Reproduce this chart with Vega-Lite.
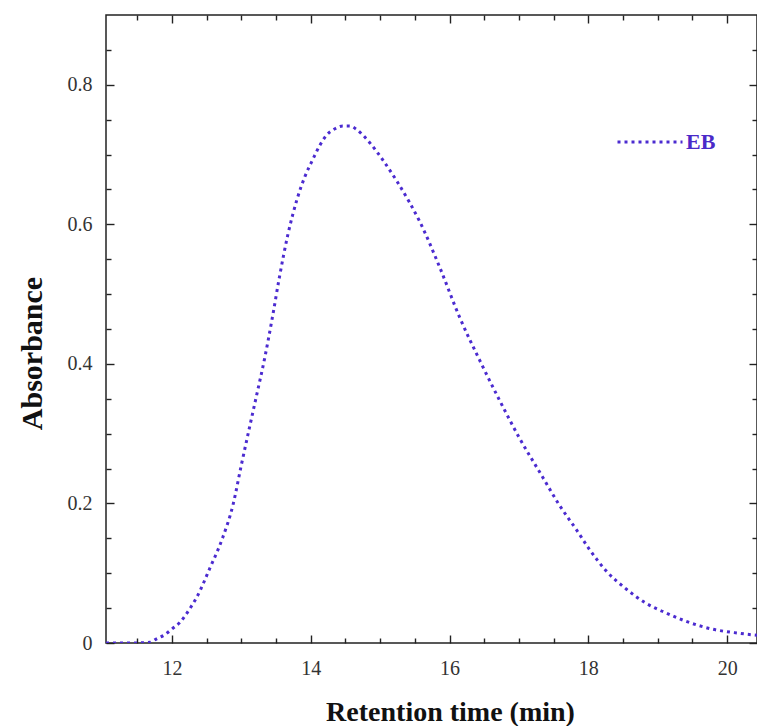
{
  "$schema": "https://vega.github.io/schema/vega-lite/v6.json",
  "width": 651,
  "height": 628,
  "autosize": "none",
  "padding": {"left": 106, "top": 15, "right": 0, "bottom": 83},
  "background": "white",
  "config": {
    "view": {"stroke": "#222222", "strokeWidth": 1.5},
    "font": "Liberation Serif",
    "axis": {
      "domain": false,
      "tickColor": "#222222",
      "tickWidth": 1.4,
      "grid": false,
      "labelFont": "Liberation Serif",
      "labelFontSize": 20,
      "labelColor": "#333333",
      "titleFont": "Liberation Serif",
      "titleFontSize": 30,
      "titleFontWeight": "bold",
      "titleColor": "#111111"
    }
  },
  "data": {
    "values": [
      {"t": 11.05, "a": 0.0},
      {"t": 11.4, "a": 0.0},
      {"t": 11.68, "a": 0.001},
      {"t": 11.78, "a": 0.006},
      {"t": 11.9, "a": 0.012},
      {"t": 12.0, "a": 0.02},
      {"t": 12.12, "a": 0.03},
      {"t": 12.25, "a": 0.048},
      {"t": 12.36, "a": 0.066},
      {"t": 12.55, "a": 0.108},
      {"t": 12.72, "a": 0.148},
      {"t": 12.88, "a": 0.198},
      {"t": 13.0, "a": 0.255},
      {"t": 13.12, "a": 0.31},
      {"t": 13.22, "a": 0.355},
      {"t": 13.34, "a": 0.41},
      {"t": 13.45, "a": 0.468},
      {"t": 13.55, "a": 0.525},
      {"t": 13.67, "a": 0.585},
      {"t": 13.8, "a": 0.635},
      {"t": 13.91, "a": 0.667},
      {"t": 14.03, "a": 0.693},
      {"t": 14.13, "a": 0.713},
      {"t": 14.23, "a": 0.728},
      {"t": 14.35, "a": 0.737},
      {"t": 14.46, "a": 0.741},
      {"t": 14.56, "a": 0.741},
      {"t": 14.66, "a": 0.736},
      {"t": 14.75, "a": 0.728},
      {"t": 14.85, "a": 0.717},
      {"t": 15.04, "a": 0.692},
      {"t": 15.24, "a": 0.662},
      {"t": 15.42, "a": 0.632},
      {"t": 15.57, "a": 0.604},
      {"t": 15.86, "a": 0.538},
      {"t": 16.14, "a": 0.468},
      {"t": 16.43, "a": 0.406},
      {"t": 16.72, "a": 0.348},
      {"t": 17.0, "a": 0.295},
      {"t": 17.34, "a": 0.238},
      {"t": 17.58, "a": 0.198},
      {"t": 17.83, "a": 0.162},
      {"t": 18.01, "a": 0.135},
      {"t": 18.26, "a": 0.103},
      {"t": 18.55, "a": 0.077},
      {"t": 18.83, "a": 0.057},
      {"t": 19.12, "a": 0.043},
      {"t": 19.41, "a": 0.031},
      {"t": 19.78, "a": 0.02},
      {"t": 20.17, "a": 0.014},
      {"t": 20.43, "a": 0.011}
    ]
  },
  "layer": [
    {
      "mark": {"type": "line", "clip": true, "strokeWidth": 3, "strokeDash": [3, 4], "interpolate": "monotone"},
      "encoding": {
        "x": {
          "field": "t", "type": "quantitative",
          "scale": {"domain": [11.05, 20.43], "nice": false, "zero": false},
          "axis": {
            "orient": "bottom", "values": [12, 14, 16, 18, 20], "format": "d",
            "offset": -8, "tickSize": 8, "labelPadding": 15,
            "title": "Retention time (min)", "titleX": 344, "titlePadding": 20, "titleFontSize": 28
          }
        },
        "y": {
          "field": "a", "type": "quantitative",
          "scale": {"domain": [0, 0.9], "nice": false},
          "axis": {
            "orient": "left", "values": [0, 0.2, 0.4, 0.6, 0.8],
            "labelExpr": "datum.value == 0 ? '0' : format(datum.value, '.1f')",
            "offset": -8, "tickSize": 8, "labelPadding": 14,
            "title": "Absorbance", "titleY": 338, "titlePadding": 20
          }
        },
        "color": {
          "datum": "EB",
          "scale": {"range": ["#4b2bd0"]},
          "legend": {
            "orient": "none", "legendX": 510, "legendY": 93,
            "title": null, "padding": 0,
            "symbolType": "stroke", "symbolSize": 4225,
            "symbolDash": [3, 4], "symbolStrokeWidth": 3,
            "labelFont": "Liberation Serif", "labelFontSize": 22,
            "labelFontWeight": "bold", "labelColor": "#4a2ac8", "labelOffset": 2
          }
        }
      }
    },
    {
      "mark": {"type": "line", "opacity": 0},
      "encoding": {
        "x": {
          "field": "t", "type": "quantitative",
          "axis": {
            "orient": "bottom",
            "values": [11.5, 12.5, 13, 13.5, 14.5, 15, 15.5, 16.5, 17, 17.5, 18.5, 19, 19.5, 20.5],
            "offset": -5, "tickSize": 5, "labels": false, "title": null
          }
        },
        "y": {
          "field": "a", "type": "quantitative",
          "axis": {
            "orient": "left",
            "values": [0.05, 0.1, 0.15, 0.25, 0.3, 0.35, 0.45, 0.5, 0.55, 0.65, 0.7, 0.75, 0.85],
            "offset": -5, "tickSize": 5, "labels": false, "title": null
          }
        }
      }
    },
    {
      "mark": {"type": "line", "opacity": 0},
      "encoding": {
        "x": {
          "field": "t", "type": "quantitative",
          "axis": {
            "orient": "top", "values": [12, 14, 16, 18, 20],
            "offset": -8, "tickSize": 8, "labels": false, "title": null
          }
        },
        "y": {
          "field": "a", "type": "quantitative",
          "axis": {
            "orient": "right", "values": [0, 0.2, 0.4, 0.6, 0.8],
            "offset": -8, "tickSize": 8, "labels": false, "title": null
          }
        }
      }
    },
    {
      "mark": {"type": "line", "opacity": 0},
      "encoding": {
        "x": {
          "field": "t", "type": "quantitative",
          "axis": {
            "orient": "top",
            "values": [11.5, 12.5, 13, 13.5, 14.5, 15, 15.5, 16.5, 17, 17.5, 18.5, 19, 19.5, 20.5],
            "offset": -5, "tickSize": 5, "labels": false, "title": null
          }
        },
        "y": {
          "field": "a", "type": "quantitative",
          "axis": {
            "orient": "right",
            "values": [0.05, 0.1, 0.15, 0.25, 0.3, 0.35, 0.45, 0.5, 0.55, 0.65, 0.7, 0.75, 0.85],
            "offset": -5, "tickSize": 5, "labels": false, "title": null
          }
        }
      }
    }
  ],
  "resolve": {"axis": {"x": "independent", "y": "independent"}}
}
